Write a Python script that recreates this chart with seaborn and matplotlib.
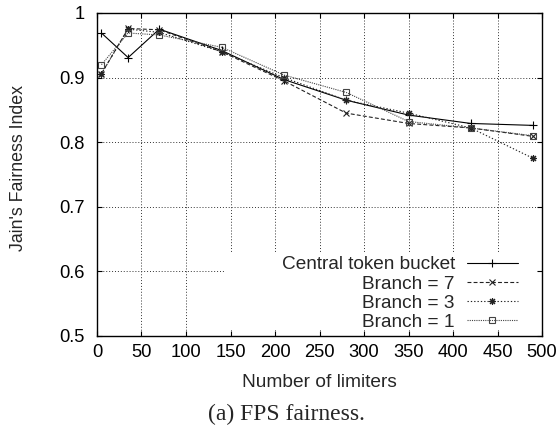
import numpy as np
import pandas as pd
import matplotlib
matplotlib.use("Agg")
import matplotlib.pyplot as plt
from matplotlib.patches import Rectangle
import seaborn as sns

# DATOS

limiters = [5, 35, 70, 140, 210, 280, 350, 420, 490]
central = [0.969, 0.931, 0.975, 0.942, 0.897, 0.865, 0.842, 0.829, 0.826]
branch7 = [0.906, 0.976, 0.974, 0.940, 0.895, 0.845, 0.829, 0.822, 0.809]
branch3 = [0.906, 0.975, 0.970, 0.940, 0.900, 0.865, 0.845, 0.822, 0.775]
branch1 = [0.920, 0.969, 0.966, 0.947, 0.904, 0.877, 0.832, 0.822, 0.810]

series_names = ["Central token bucket", "Branch = 7", "Branch = 3", "Branch = 1"]
x_ticks = [0, 50, 100, 150, 200, 250, 300, 350, 400, 450, 500]
y_ticks = [0.5, 0.6, 0.7, 0.8, 0.9, 1.0]
y_tick_labels = ["0.5", "0.6", "0.7", "0.8", "0.9", "1"]

df = pd.DataFrame({
    "limiters": limiters * 4,
    "fairness": central + branch7 + branch3 + branch1,
    "series": np.repeat(series_names, len(limiters)),
})

# ESTILO

sns.set_style("ticks")
plt.rcParams["font.family"] = ["Liberation Sans", "DejaVu Sans"]

styles = {
    "Central token bucket": dict(color="black", linestyle="-", marker="+", ms=5.5),
    "Branch = 7": dict(color="#222222", linestyle=(0, (3.5, 2)), marker="x", ms=4.2),
    "Branch = 3": dict(color="#222222", linestyle=(0, (1.2, 1.8)), marker=(8, 2, 0), ms=5),
    "Branch = 1": dict(color="#444444", linestyle=(0, (1, 1)), marker="s", ms=4.2),
}

fig = plt.figure(figsize=(5.6, 4.26), dpi=100)
ax = fig.add_axes([0.1732, 0.2113, 0.7947, 0.7582])

for name in series_names:
    st = styles[name]
    sns.lineplot(
        data=df[df["series"] == name],
        x="limiters",
        y="fairness",
        ax=ax,
        label=name,
        color=st["color"],
        linestyle=st["linestyle"],
        linewidth=0.8,
        marker=st["marker"],
        markersize=st["ms"],
        markeredgecolor=st["color"],
        markerfacecolor="none",
        markeredgewidth=0.8,
        legend=False,
    )

ax.set_xlim(0, 500)
ax.set_ylim(0.5, 1.0)
ax.set_xticks(x_ticks)
ax.set_xticklabels([str(t) for t in x_ticks])
ax.set_yticks(y_ticks)
ax.set_yticklabels(y_tick_labels)

ax.set_axisbelow(True)
ax.grid(True, linestyle=(0, (1, 2)), color="#333333", linewidth=0.7)

ax.tick_params(direction="in", length=3.5, width=0.8, top=True, right=True,
               labelsize=13.2, colors="black", pad=6)
ax.tick_params(axis="y", pad=9)
for sp in ax.spines.values():
    sp.set_visible(True)
    sp.set_linewidth(1.0)
    sp.set_color("black")

ax.set_xlabel("Number of limiters", fontsize=13.8)
ax.xaxis.set_label_coords(0.5, -0.1455)
ax.xaxis.label.set_va("center")
ax.set_ylabel("Jain's Fairness Index", fontsize=12.8)
ax.yaxis.set_label_coords(-0.176, 0.519)
ax.yaxis.label.set_va("center")

# caja blanca de la leyenda (tapa la grilla)
ax.add_patch(Rectangle((0.288, 0.019), 0.700, 0.238, transform=ax.transAxes,
                       facecolor="white", edgecolor="none", zorder=1))

handles, labels = ax.get_legend_handles_labels()
leg = ax.legend(
    handles, labels,
    loc="lower right",
    bbox_to_anchor=(0.946, 0.015),
    markerfirst=False,
    frameon=False,
    fontsize=13.7,
    borderpad=0,
    borderaxespad=0,
    labelspacing=0.1,
    handlelength=2.7,
    handletextpad=0.62,
)

fig.text(0.511, 0.026, "(a) FPS fairness.", ha="center", va="center",
         fontsize=17, family="Liberation Serif")

fig.savefig("out.png", dpi=100)
print("listo")
